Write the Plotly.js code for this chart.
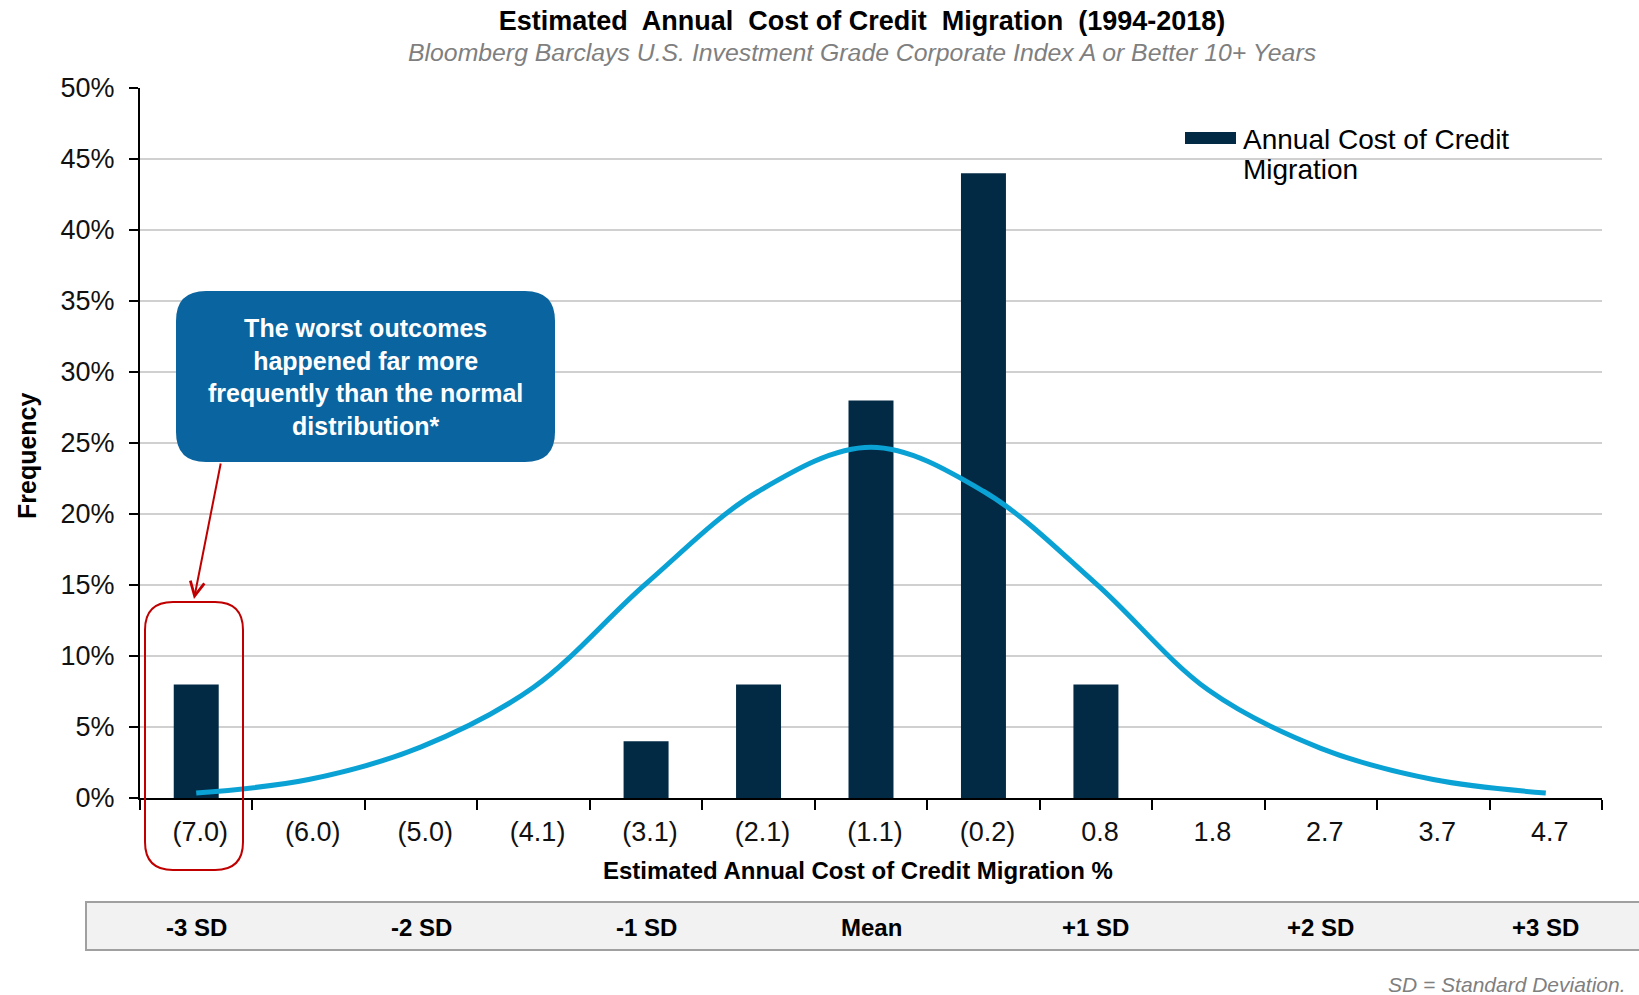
<!DOCTYPE html>
<html><head><meta charset="utf-8">
<script src="https://cdn.plot.ly/plotly-3.0.1.min.js"></script>
<style>html,body{margin:0;padding:0;background:#fff}#chart{width:1639px;height:995px}</style>
</head><body><div id="chart"></div><script>
// ---- data ----
const categories = ['(7.0)','(6.0)','(5.0)','(4.1)','(3.1)','(2.1)','(1.1)','(0.2)','0.8','1.8','2.7','3.7','4.7'];
const frequency = [8,0,0,0,4,8,28,44,8,0,0,0,0];
const normalCurve = [0.35,1.3,3.6,7.8,15.1,21.6,24.7,21.6,15.1,7.6,3.5,1.3,0.35];
const yTickVals = [0,5,10,15,20,25,30,35,40,45,50];
const sdLabels = ['-3 SD','-2 SD','-1 SD','Mean','+1 SD','+2 SD','+3 SD'];
const sdCategories = ['(7.0)','(5.0)','(3.1)','(1.1)','0.8','2.7','4.7'];
const barName = 'Annual Cost of Credit Migration';

// ---- layout helpers (pixel -> paper) ----
const FW = 1639, FH = 995;
const M = {l:140, r:37, t:88, b:197};
const PW = FW - M.l - M.r, PH = FH - M.t - M.b;
const X = px => (px - M.l) / PW;
const Y = py => (FH - M.b - py) / PH;
function rrect(x0,y0,x1,y1,r){
  return `M${X(x0+r)},${Y(y0)} L${X(x1-r)},${Y(y0)} Q${X(x1)},${Y(y0)} ${X(x1)},${Y(y0+r)} `+
         `L${X(x1)},${Y(y1-r)} Q${X(x1)},${Y(y1)} ${X(x1-r)},${Y(y1)} `+
         `L${X(x0+r)},${Y(y1)} Q${X(x0)},${Y(y1)} ${X(x0)},${Y(y1-r)} `+
         `L${X(x0)},${Y(y0+r)} Q${X(x0)},${Y(y0)} ${X(x0+r)},${Y(y0)} Z`;
}
const FONT = 'Liberation Sans, Arial, sans-serif';
const BAR = '#032a45', CURVE = '#0aa2d4', RED = '#c00000';

const traces = [
  {type:'bar', x:categories, y:frequency, name:barName, marker:{color:BAR}, showlegend:false, hoverinfo:'x+y'},
  {type:'scatter', mode:'lines', x:categories, y:normalCurve, name:'Normal distribution',
   line:{color:CURVE, width:5, shape:'spline', smoothing:1}, showlegend:false}
];

const annotations = [
  {xref:'paper', yref:'paper', x:X(862), y:Y(52), text:'<i>Bloomberg Barclays U.S. Investment Grade Corporate Index A or Better 10+ Years</i>',
   showarrow:false, font:{family:FONT, size:24.8, color:'#7f7f7f'}, xanchor:'center', yanchor:'middle'},
  {xref:'paper', yref:'paper', x:X(858), y:Y(870), text:'<b>Estimated Annual Cost of Credit Migration %</b>',
   showarrow:false, font:{family:FONT, size:24, color:'#000'}, xanchor:'center', yanchor:'middle'},
  {xref:'paper', yref:'paper', x:X(27), y:Y(455), text:'<b>Frequency</b>', textangle:-90,
   showarrow:false, font:{family:FONT, size:25, color:'#000'}, xanchor:'center', yanchor:'middle'},
  // legend
  {xref:'paper', yref:'paper', x:X(1241), y:Y(139), text:'Annual Cost of Credit', showarrow:false,
   font:{family:FONT, size:28, color:'#000'}, xanchor:'left', yanchor:'middle'},
  {xref:'paper', yref:'paper', x:X(1241), y:Y(170), text:'Migration', showarrow:false,
   font:{family:FONT, size:28, color:'#000'}, xanchor:'left', yanchor:'middle'},
  // callout
  {xref:'paper', yref:'paper', x:X(365), y:Y(377), text:'<b>The worst outcomes<br>happened far more<br>frequently than the normal<br>distribution*</b>',
   showarrow:false, align:'center', font:{family:FONT, size:25, color:'#fff'}, xanchor:'center', yanchor:'middle'},
  // arrow
  {xref:'paper', yref:'paper', x:X(194), y:Y(599), ax:27, ay:-137, text:'', showarrow:true,
   arrowhead:5, arrowsize:1.4, arrowwidth:2, arrowcolor:RED},
  // footnote
  {xref:'paper', yref:'paper', x:X(1628), y:Y(984), text:'<i>SD = Standard Deviation.</i>', showarrow:false,
   font:{family:FONT, size:21, color:'#7f7f7f'}, xanchor:'right', yanchor:'middle'}
];
sdLabels.forEach((t,i)=>annotations.push({
  xref:'x', yref:'paper', x:categories.indexOf(sdCategories[i]), y:Y(927), text:'<b>'+t+'</b>', showarrow:false,
  font:{family:FONT, size:24, color:'#000'}, xanchor:'center', yanchor:'middle'
}));

const shapes = [
  // SD band
  {type:'rect', xref:'paper', yref:'paper', x0:X(86), x1:X(1650), y0:Y(902), y1:Y(950),
   fillcolor:'#f2f2f2', line:{color:'#a0a0a0', width:2}, layer:'above'},
  // legend swatch
  {type:'rect', xref:'paper', yref:'paper', x0:X(1185), x1:X(1236), y0:Y(132), y1:Y(144),
   fillcolor:BAR, line:{width:0}, layer:'above'},
  // callout box
  {type:'path', xref:'paper', yref:'paper', path:rrect(176,291,555,462,30),
   fillcolor:'#0a64a0', line:{width:0}, layer:'above'},
  // red highlight box
  {type:'path', xref:'paper', yref:'paper', path:rrect(145,602,243,870,28),
   fillcolor:'rgba(0,0,0,0)', line:{color:RED, width:2}, layer:'above'}
];

const layout = {
  width:FW, height:FH, margin:M, paper_bgcolor:'#fff', plot_bgcolor:'#fff',
  font:{family:FONT, color:'#000'},
  title:{text:'<b>Estimated\u00a0 Annual\u00a0 Cost of Credit\u00a0 Migration\u00a0 (1994-2018)</b>',
         xref:'container', yref:'container', x:862/FW, y:1-21/FH, xanchor:'center', yanchor:'middle',
         font:{family:FONT, size:27, color:'#000'}},
  bargap:0.6,
  xaxis:{type:'category', categoryorder:'array', categoryarray:categories, range:[-0.5,12.5],
         showline:true, linecolor:'#000', linewidth:2, ticks:'outside', tickson:'boundaries',
         ticklen:10, tickwidth:2, tickcolor:'#000', showgrid:false, zeroline:false,
         tickfont:{family:FONT, size:27, color:'#111'}, ticklabelstandoff:9, ticklabelshift:4},
  yaxis:{range:[0,50], tickvals:yTickVals, ticktext:yTickVals.map(v=>v+'%'),
         showline:true, linecolor:'#000', linewidth:2, ticks:'outside', ticklen:9, tickwidth:2, tickcolor:'#000',
         showgrid:true, gridcolor:'#d0d0d0', gridwidth:2, zeroline:false,
         tickfont:{family:FONT, size:27, color:'#111'}, ticklabelstandoff:9},
  showlegend:false,
  annotations, shapes
};
Plotly.newPlot('chart', traces, layout, {displayModeBar:false, staticPlot:true});
</script></body></html>
